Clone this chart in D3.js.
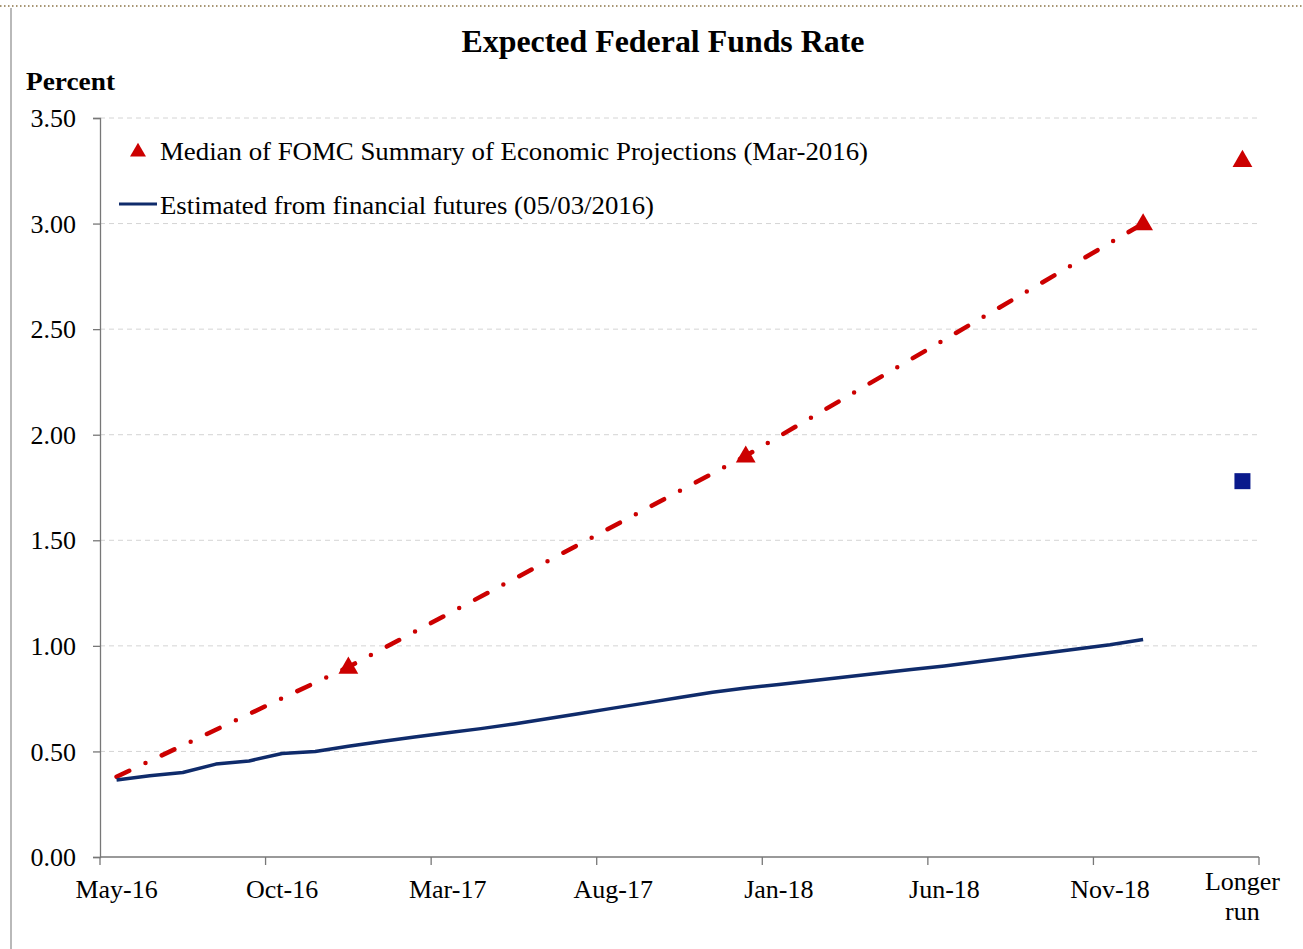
<!DOCTYPE html>
<html>
<head>
<meta charset="utf-8">
<script src="https://cdn.jsdelivr.net/npm/d3@7/dist/d3.min.js"></script>
<style>
	body { margin: 0; background: #fff; }
	text { font-family: "Liberation Serif", "Times New Roman", serif; fill: #000; }
</style>
</head>
<body>
<div id="chart"></div>
<script>
// categories along the x axis (monthly, plus the longer-run slot)
var categories = ["May-16","Jun-16","Jul-16","Aug-16","Sep-16","Oct-16","Nov-16","Dec-16",
	"Jan-17","Feb-17","Mar-17","Apr-17","May-17","Jun-17","Jul-17","Aug-17","Sep-17","Oct-17","Nov-17","Dec-17",
	"Jan-18","Feb-18","Mar-18","Apr-18","May-18","Jun-18","Jul-18","Aug-18","Sep-18","Oct-18","Nov-18","Dec-18",
	"Jan-19","Feb-19","Longer run"];

var xTickLabels = ["May-16","Oct-16","Mar-17","Aug-17","Jan-18","Jun-18","Nov-18","Longer run"];
var yTicks = [0, 0.5, 1, 1.5, 2, 2.5, 3, 3.5];

// futures-implied path, May-16 .. Dec-18
var futuresMonths = categories.slice(0, 32);
var futuresValues = [0.365,0.385,0.40,0.44,0.455,0.49,0.50,0.525,0.547,0.568,0.588,0.608,0.63,0.655,0.68,0.705,
	0.73,0.755,0.78,0.80,0.817,0.835,0.853,0.87,0.888,0.905,0.925,0.945,0.965,0.985,1.005,1.03];
var futuresLongRun = 1.78;

// FOMC SEP medians
var sepCategories = ["Dec-16","Dec-17","Dec-18","Longer run"];
var sepValues = [0.9, 1.9, 3.0, 3.3];

// dash-dot path connecting current rate to SEP year-end medians
var sepLineCategories = ["May-16","Dec-16","Dec-17","Dec-18"];
var sepLineValues = [0.38, 0.9, 1.9, 3.0];

var W = 1303, H = 949;
var margins = {top: 118, left: 100, right: 44, bottom: 92};
var width = W - margins.left - margins.right,
	height = H - margins.top - margins.bottom;

var red = "#cc0000", navy = "#0f2b6b";

var svg = d3.select("#chart").append("svg")
	.attr("width", W)
	.attr("height", H);

// frame bits
svg.append("line")
	.attr("x1", 0).attr("x2", W).attr("y1", 6).attr("y2", 6)
	.attr("stroke", "#8b7345").attr("stroke-width", 1.5).attr("stroke-dasharray", "1.5,2.5");
svg.append("line")
	.attr("x1", 11).attr("x2", 11).attr("y1", 8).attr("y2", H)
	.attr("stroke", "#8a8a8a").attr("stroke-width", 1.2);

svg.append("text")
	.attr("x", 663).attr("y", 52)
	.attr("text-anchor", "middle")
	.style("font-size", "31px").style("font-weight", "bold")
	.attr("textLength", 403).attr("lengthAdjust", "spacingAndGlyphs")
	.text("Expected Federal Funds Rate");

svg.append("text")
	.attr("x", 26).attr("y", 90)
	.style("font-size", "26px").style("font-weight", "bold")
	.attr("textLength", 89).attr("lengthAdjust", "spacingAndGlyphs")
	.text("Percent");

var g = svg.append("g")
	.attr("transform", "translate(" + margins.left + "," + margins.top + ")");

var x = d3.scaleBand().domain(categories).range([0, width]).padding(0);
var y = d3.scaleLinear().domain([0, 3.5]).range([height, 0]);
var cx = function(c) { return x(c) + x.bandwidth() / 2; };

// gridlines
g.selectAll(".grid").data(yTicks.slice(1))
	.enter().append("line")
	.attr("x1", 0).attr("x2", width)
	.attr("y1", function(d) { return y(d); }).attr("y2", function(d) { return y(d); })
	.attr("stroke", "#d4d4d4").attr("stroke-width", 1).attr("stroke-dasharray", "5,4");

// y axis
var yAxis = d3.axisLeft(y).tickValues(yTicks).tickFormat(d3.format(".2f")).tickSize(7).tickPadding(17);
var ya = g.append("g").call(yAxis);
ya.select(".domain").attr("stroke", "#777").attr("stroke-width", 1.3);
ya.selectAll(".tick line").attr("stroke", "#777").attr("stroke-width", 1.3);
ya.selectAll(".tick text").style("font-size", "26px").style("font-family", "Liberation Serif").attr("dy", "0.33em");

// x axis: ticks on category boundaries every 5, labels centred in bands
var tickCats = categories.filter(function(c, i) { return i % 5 === 0; });
var xa = g.append("g").attr("transform", "translate(0," + height + ")");
xa.append("line").attr("x1", 0).attr("x2", width).attr("stroke", "#777").attr("stroke-width", 1.3);
xa.selectAll(".xt").data(tickCats.concat(["end"]))
	.enter().append("line")
	.attr("x1", function(d) { return d === "end" ? width : x(d); })
	.attr("x2", function(d) { return d === "end" ? width : x(d); })
	.attr("y1", 0).attr("y2", 8)
	.attr("stroke", "#777").attr("stroke-width", 1.3);
xa.selectAll(".xl").data(xTickLabels)
	.enter().append("text")
	.attr("x", function(d) { return cx(d); })
	.attr("y", 41)
	.attr("text-anchor", "middle")
	.style("font-size", "26px")
	.each(function(d) {
		var parts = d === "Longer run" ? ["Longer", "run"] : [d];
		var t = d3.select(this);
		parts.forEach(function(p, i) {
			t.append("tspan").attr("x", cx(d)).attr("dy", i === 0 ? (parts.length > 1 ? "-0.3em" : 0) : "1.15em").text(p);
		});
	});

// SEP dash-dot line
var line = d3.line()
	.x(function(d) { return cx(d[0]); })
	.y(function(d) { return y(d[1]); });

g.append("path")
	.datum(d3.zip(sepLineCategories, sepLineValues))
	.attr("d", line)
	.attr("fill", "none")
	.attr("stroke", red)
	.attr("stroke-width", 4.5)
	.attr("stroke-linecap", "round")
	.attr("stroke-dasharray", "14,18,0,18");

// futures line
g.append("path")
	.datum(d3.zip(futuresMonths, futuresValues))
	.attr("d", line)
	.attr("fill", "none")
	.attr("stroke", navy)
	.attr("stroke-width", 3.5)
	.attr("stroke-linejoin", "round");

// SEP triangles
var tri = d3.symbol().type(d3.symbolTriangle).size(170);
g.selectAll(".sep").data(d3.zip(sepCategories, sepValues))
	.enter().append("path")
	.attr("d", tri)
	.attr("transform", function(d) { return "translate(" + cx(d[0]) + "," + (y(d[1]) + 1) + ")"; })
	.attr("fill", red);

// longer-run futures square
g.append("rect")
	.attr("x", cx("Longer run") - 8).attr("y", y(futuresLongRun) - 8)
	.attr("width", 16).attr("height", 16)
	.attr("fill", "#0a1a8c");

// legend
var leg = svg.append("g");
leg.append("path")
	.attr("d", d3.symbol().type(d3.symbolTriangle).size(110))
	.attr("transform", "translate(138,152)")
	.attr("fill", red);
leg.append("text").attr("x", 160).attr("y", 160)
	.style("font-size", "26px").attr("textLength", 708).attr("lengthAdjust", "spacingAndGlyphs")
	.text("Median of FOMC Summary of Economic Projections (Mar-2016)");
leg.append("line").attr("x1", 119).attr("x2", 157).attr("y1", 204).attr("y2", 204)
	.attr("stroke", navy).attr("stroke-width", 3.2);
leg.append("text").attr("x", 160).attr("y", 214)
	.style("font-size", "26px").attr("textLength", 494).attr("lengthAdjust", "spacingAndGlyphs")
	.text("Estimated from financial futures (05/03/2016)");
</script>
</body>
</html>
